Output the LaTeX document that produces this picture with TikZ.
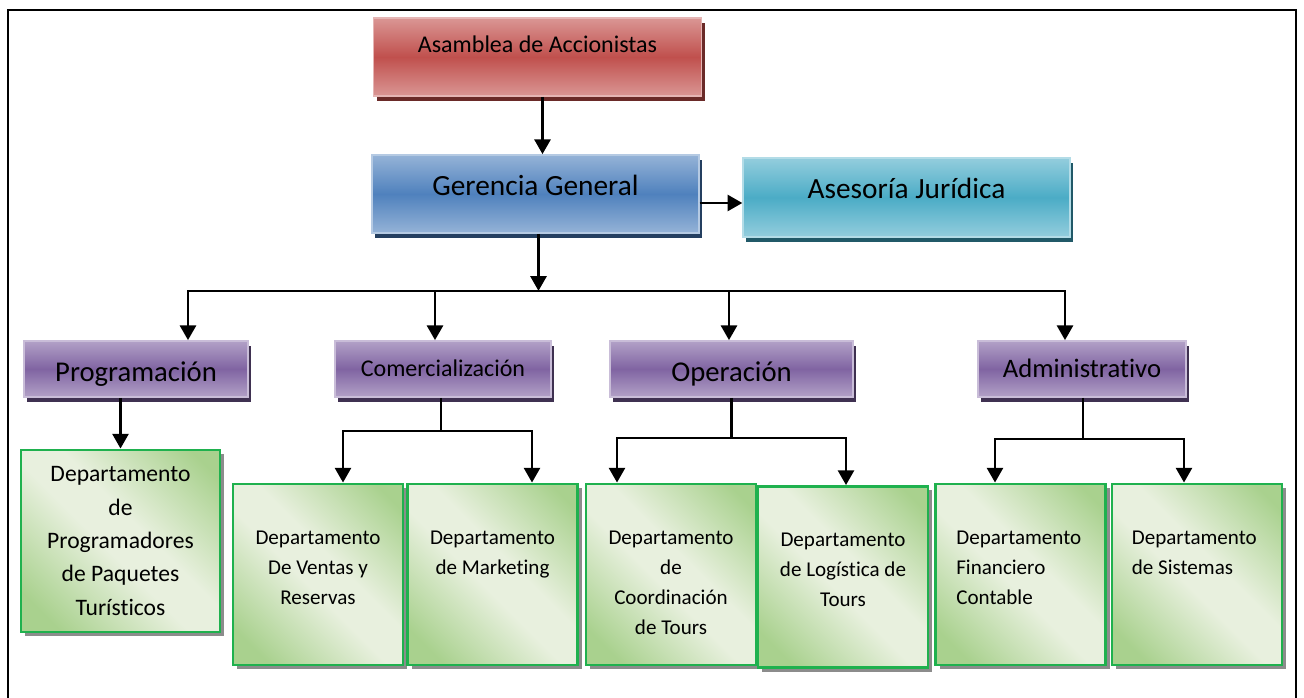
\documentclass[tikz,border=0pt]{standalone}
\usepackage{fontspec}
\setmainfont[Ligatures=NoCommon]{Carlito}
\usetikzlibrary{arrows.meta,calc,shadows}
\definecolor{redmid}{HTML}{C0504D}
\definecolor{redlight}{HTML}{DA9694}
\definecolor{redshadow}{HTML}{6A2A28}
\definecolor{bluemid}{HTML}{4F81BD}
\definecolor{bluelight}{HTML}{95B3D7}
\definecolor{blueshadow}{HTML}{243F60}
\definecolor{cyanmid}{HTML}{4BACC6}
\definecolor{cyanlight}{HTML}{93CDDD}
\definecolor{cyanshadow}{HTML}{215968}
\definecolor{purplemid}{HTML}{8064A2}
\definecolor{purplelight}{HTML}{B2A1C7}
\definecolor{purpleshadow}{HTML}{3F3151}
\definecolor{deplight}{HTML}{E8F0DE}
\definecolor{depdark}{HTML}{A9D18E}
\definecolor{depborder}{HTML}{1FB14E}
\pgfdeclarehorizontalshading{depshade}{100bp}{color(0bp)=(depdark); color(22bp)=(depdark); color(46bp)=(deplight); color(56bp)=(deplight); color(80bp)=(depdark); color(100bp)=(depdark)}
\begin{document}
\begin{tikzpicture}[x=0.75pt, y=-0.75pt,
    conn/.style={line width=1.9pt},
    arr/.style={conn, -{Triangle[length=11pt, width=12pt]}},
    office/.style n args={3}{draw=#2!70!white, line width=1.3pt, inner sep=0pt,
        top color=#2, bottom color=#2, middle color=#1,
        general shadow={fill=#3, shadow xshift=2.25pt, shadow yshift=-3.75pt}},
    dept/.style={draw=depborder, line width=2.2pt, inner sep=0pt, shade, shading=depshade, shading angle=45,
        general shadow={fill=black!45, shadow xshift=3pt, shadow yshift=-3pt},
        minimum width=127.5pt, minimum height=135.75pt},
    deptext/.style={inner sep=0pt, align=center, font=\fontsize{15.8}{22.5}\selectfont}
]
    \useasboundingbox (0,0) rectangle (1304,698);
    \draw[line width=1.2pt] (8,698) -- (8,10) -- (1296,10) -- (1296,698);

    \node[office={redmid}{redlight}{redshadow}, minimum width=246pt, minimum height=58.5pt,
        font=\fontsize{18}{20}\selectfont, text height=11.6pt, text depth=18.8pt] (asamblea) at (537.5,57) {Asamblea de Accionistas};
    \node[office={bluemid}{bluelight}{blueshadow}, minimum width=245pt, minimum height=58.5pt,
        font=\fontsize{22}{24}\selectfont, text height=14.2pt, text depth=11.2pt] (gerencia) at (535.5,194) {Gerencia General};
    \node[office={cyanmid}{cyanlight}{cyanshadow}, minimum width=245pt, minimum height=59pt,
        font=\fontsize{22}{24}\selectfont, text height=14.2pt, text depth=12.8pt] (asesoria) at (906.5,197.5) {Asesoría Jurídica};

    \node[office={purplemid}{purplelight}{purpleshadow}, minimum width=168pt, minimum height=42pt,
        font=\fontsize{21.5}{24}\selectfont, text height=18.3pt, text depth=0pt] (programacion) at (136,369) {Programación};
    \node[office={purplemid}{purplelight}{purpleshadow}, minimum width=162pt, minimum height=42pt,
        font=\fontsize{18}{20}\selectfont, text height=11.6pt, text depth=0pt] (comercializacion) at (443,369) {Comercialización};
    \node[office={purplemid}{purplelight}{purpleshadow}, minimum width=182.25pt, minimum height=42pt,
        font=\fontsize{21.5}{24}\selectfont, text height=18.3pt, text depth=0pt] (operacion) at (731.5,369) {Operación};
    \node[office={purplemid}{purplelight}{purpleshadow}, minimum width=156pt, minimum height=42pt,
        font=\fontsize{20}{22}\selectfont, text height=12.9pt, text depth=0pt] (administrativo) at (1082,369) {Administrativo};

    \node[dept, minimum width=149.25pt, minimum height=136.5pt, align=center,
        font=\fontsize{17.7}{25}\selectfont] (progdep) at (120.5,541) {Departamento\\de\\Programadores\\de Paquetes\\Turísticos};
    \node[dept] (ventas) at (318,574.5) {};
    \node[dept] (marketing) at (492.5,574.5) {};
    \node[dept] (coordinacion) at (671,574.5) {};
    \node[dept] (logistica) at (843,577) {};
    \node[dept] (financiero) at (1020.5,574.5) {};
    \node[dept] (sistemas) at (1197,574.5) {};

    \node[deptext, anchor=north] (ventastxt) at ($(ventas.north)+(0,48)$) {Departamento\\De Ventas y\\Reservas};
    \node[deptext, anchor=north] (marketingtxt) at ($(marketing.north)+(0,48)$) {Departamento\\de Marketing};
    \node[deptext, anchor=north] (coordinaciontxt) at ($(coordinacion.north)+(0,48)$) {Departamento\\de\\Coordinación\\de Tours};
    \node[deptext, anchor=north] (logisticatxt) at ($(logistica.north)+(0,48)$) {Departamento\\de Logística de\\Tours};
    \node[deptext, anchor=north west, align=left] (financierotxt) at ($(financiero.north west)+(22,48)$) {Departamento\\Financiero\\Contable};
    \node[deptext, anchor=north west, align=left] (sistemastxt) at ($(sistemas.north west)+(21,48)$) {Departamento\\de Sistemas};

    \coordinate (asamblea1) at ($(asamblea.south)+(5,0)$);
    \draw[arr] (asamblea1) -- (asamblea1 |- gerencia.north);
    \coordinate (gerencia1) at ($(gerencia.east)+(0,9)$);
    \draw[arr] (gerencia1) -- (gerencia1 -| asesoria.west);

    \coordinate (bus) at ($(gerencia.south)+(3,57)$);
    \draw[arr] (gerencia.south -| bus) -- (bus);
    \draw[arr] (bus) -| ($(programacion.north)+(52,0)$);
    \draw[arr] (bus) -| ($(comercializacion.north)+(-8,0)$);
    \draw[arr] (bus) -| ($(operacion.north)+(-2.5,0)$);
    \draw[arr] (bus) -| ($(administrativo.north)+(-17,0)$);

    \draw[arr] (programacion.south -| progdep.north) -- (progdep.north);

    \coordinate (combus) at ($(comercializacion.south)+(-2,33)$);
    \draw[conn] (comercializacion.south -| combus) -- (combus);
    \draw[arr] (combus) -| ($(ventas.north)+(25,0)$);
    \draw[arr] (combus) -| ($(marketing.north)+(39.5,0)$);

    \coordinate (opebus) at ($(operacion.south)+(0,40)$);
    \draw[conn] (operacion.south) -- (opebus);
    \draw[arr] (opebus) -| ($(coordinacion.north)+(-54,0)$);
    \draw[arr] (opebus) -| ($(logistica.north)+(3,0)$);

    \coordinate (admbus) at ($(administrativo.south)+(1,41)$);
    \draw[conn] (administrativo.south -| admbus) -- (admbus);
    \draw[arr] (admbus) -| ($(financiero.north)+(-25.5,0)$);
    \draw[arr] (admbus) -| ($(sistemas.north)+(-13,0)$);
\end{tikzpicture}
\end{document}
